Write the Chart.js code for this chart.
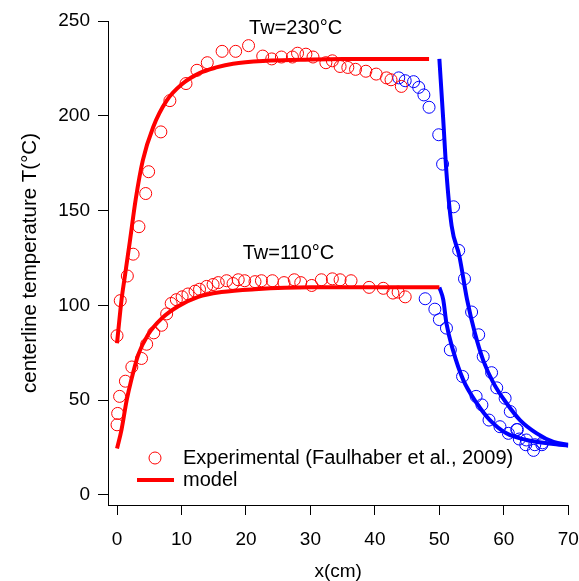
<!DOCTYPE html>
<html>
<head>
<meta charset="utf-8">
<script src="https://cdn.jsdelivr.net/npm/chart.js@4/dist/chart.umd.min.js"></script>
<style>
  html, body { margin: 0; padding: 0; background: #fff; }
  #wrap { width: 579px; height: 581px; }
</style>
</head>
<body>
<div id="wrap"><canvas id="tempChart"></canvas></div>
<script>
// experimental points, Tw = 230 C (heated part, red)
const exp230X = [0, 0.5, 1.6, 2.5, 3.4, 4.45, 4.9, 6.8, 8.2, 10.7, 12.4, 14, 16.3, 18.4, 20.4, 22.6, 24, 25.5, 27.2, 28, 29.3, 30.4, 32.4, 33.4, 34.6, 35.8, 37, 38.6, 40.2, 41.8, 42.5, 44.1];
const exp230Y = [84, 102.5, 115.5, 127, 141.5, 159, 170.5, 191.5, 208, 217, 224, 228, 234, 234, 237, 231.5, 230, 231, 231, 233, 232.5, 231, 228, 229, 226, 225.5, 224.5, 223.5, 222, 220, 219, 215.5];
// experimental points, Tw = 230 C (cooling part, blue)
const cool230X = [43.7, 44.7, 46, 46.8, 47.6, 48.4, 49.9, 50.5, 52.2, 53, 53.9, 55, 56.1, 56.8, 58.1, 58.9, 60.2, 61, 62, 63.5, 64.8, 66];
const cool230Y = [220, 218.5, 218, 215, 211, 204.5, 190, 174.5, 152, 129, 114, 96.5, 84.5, 73, 64.5, 56.5, 51, 44, 34.5, 29, 26.5, 27.5];
// experimental points, Tw = 110 C (heated part, red)
const exp110X = [0, 0.1, 0.4, 1.3, 2.3, 3.8, 4.6, 5.7, 6.9, 7.7, 8.4, 9.2, 10.1, 11, 12.1, 12.8, 13.9, 14.9, 15.7, 17, 18, 18.8, 19.8, 21.4, 22.4, 24.1, 25.9, 27.5, 28.5, 30.2, 31.7, 33.4, 34.6, 36.3, 39.1, 41.3, 42.8, 43.6, 44.7];
const exp110Y = [37, 43, 52, 60, 67.5, 72, 79.5, 85.5, 89.5, 95.5, 101, 103, 104.5, 106, 107.5, 108.5, 110, 111, 112, 113, 111.5, 113.5, 113, 112.5, 113, 113, 112, 113.5, 112, 110.5, 113.5, 114, 113.5, 113, 109.5, 109, 106.5, 107, 104.5];
// experimental points, Tw = 110 C (cooling part, blue)
const cool110X = [47.8, 49.3, 50, 51.1, 51.7, 53.6, 55.7, 56.6, 57.7, 59.4, 60.7, 62.1, 62.4, 63.4, 64.6, 65.9];
const cool110Y = [103.5, 98, 92.5, 88, 76.5, 62.5, 52, 47.5, 39.5, 36, 32.5, 34.5, 29.5, 26.5, 23.5, 26.5];

// model curves
const model230X = [0, 0.7, 1.2, 2, 2.9, 4, 5.6, 7.7, 10.2, 12.8, 15.4, 18, 23.2, 28.4, 35, 48.4];
const model230Y = [80, 103, 115, 134, 156, 176.5, 194, 208, 217, 222.5, 225.5, 227.5, 229, 229.5, 230, 230];
const modelCool230X = [50, 50.6, 51.1, 51.9, 53.1, 54.3, 55.5, 56.8, 58.4, 60.4, 62.5, 65.1, 67.7, 70];
const modelCool230Y = [230, 198, 170, 142, 126, 103, 85.5, 71, 59, 48.5, 39.5, 32.5, 28, 26.5];
const model110X = [0, 0.7, 1.5, 2.2, 3.3, 4.8, 6.9, 9.5, 12.6, 16.2, 21.4, 30, 50];
const model110Y = [24.5, 34.5, 50, 60.5, 74, 84.5, 93, 99.5, 104.5, 107, 108.5, 109.5, 109.5];
const modelCool110X = [50, 50.6, 51.1, 52.1, 53.7, 55.8, 57.8, 60.4, 63.5, 67.4, 70];
const modelCool110Y = [109.5, 103, 90.5, 76.5, 60.7, 48.4, 39.6, 32.5, 29, 27, 26];

const xTicks = [0, 10, 20, 30, 40, 50, 60, 70];
const yTicks = [0, 50, 100, 150, 200, 250];

const RED = '#ff0000';
const BLUE = '#0000ff';
const FONT = 'Liberation Sans, Arial, Helvetica, sans-serif';

function pts(xs, ys) {
  return xs.map((x, i) => ({ x: x, y: ys[i] }));
}

function circles(xs, ys, color) {
  return {
    data: pts(xs, ys),
    showLine: false,
    pointStyle: 'circle',
    pointRadius: 6,
    pointBorderWidth: 1,
    pointBorderColor: color,
    pointBackgroundColor: 'rgba(0,0,0,0)',
    order: 2
  };
}

function curve(xs, ys, color) {
  return {
    data: pts(xs, ys),
    showLine: true,
    borderColor: color,
    borderWidth: 4,
    pointRadius: 0,
    cubicInterpolationMode: 'monotone',
    fill: false,
    order: 1
  };
}

// legend and Tw labels drawn inside the plot area
const extras = {
  id: 'extras',
  afterDraw(chart) {
    const ctx = chart.ctx;
    const xs = chart.scales.x, ys = chart.scales.y;
    ctx.save();
    ctx.fillStyle = '#000';
    ctx.font = '20px ' + FONT;
    ctx.textAlign = 'center';
    ctx.textBaseline = 'middle';
    ctx.fillText('Tw=230°C', xs.getPixelForValue(27.7), ys.getPixelForValue(246.3));
    ctx.fillText('Tw=110°C', xs.getPixelForValue(26.6), ys.getPixelForValue(127.6));

    ctx.textAlign = 'left';
    ctx.beginPath();
    ctx.strokeStyle = RED;
    ctx.lineWidth = 1;
    ctx.arc(155, 458, 6, 0, Math.PI * 2);
    ctx.stroke();
    ctx.fillText('Experimental (Faulhaber et al., 2009)', 183, 458);

    ctx.beginPath();
    ctx.lineWidth = 4;
    ctx.moveTo(137, 480);
    ctx.lineTo(174, 480);
    ctx.stroke();
    ctx.fillText('model', 183, 480);
    ctx.restore();
  }
};

new Chart(document.getElementById('tempChart'), {
  type: 'scatter',
  data: {
    datasets: [
      circles(exp230X, exp230Y, RED),
      circles(cool230X, cool230Y, BLUE),
      circles(exp110X, exp110Y, RED),
      circles(cool110X, cool110Y, BLUE),
      curve(model230X, model230Y, RED),
      curve(modelCool230X, modelCool230Y, BLUE),
      curve(model110X, model110Y, RED),
      curve(modelCool110X, modelCool110Y, BLUE)
    ]
  },
  options: {
    responsive: true,
    maintainAspectRatio: false,
    animation: false,
    layout: { padding: { left: 0, top: 21, right: 10.7, bottom: 0 } },
    plugins: {
      legend: { display: false },
      tooltip: { enabled: false }
    },
    scales: {
      x: {
        type: 'linear',
        min: -1.4,
        max: 70,
        afterBuildTicks: s => { s.ticks = xTicks.map(v => ({ value: v })); },
        afterFit: s => { s.height = 76; s.paddingLeft = 0; s.paddingRight = 0; },
        grid: { drawOnChartArea: false, drawTicks: true, tickLength: 10, color: '#000', lineWidth: 1 },
        border: { color: '#000', width: 1 },
        ticks: { color: '#000', font: { family: FONT, size: 19 }, padding: 13, maxRotation: 0 },
        title: { display: true, text: 'x(cm)', color: '#000', font: { family: FONT, size: 19, lineHeight: 1 }, padding: { top: 0, bottom: 0 } }
      },
      y: {
        type: 'linear',
        min: -5.3,
        max: 250,
        afterBuildTicks: s => { s.ticks = yTicks.map(v => ({ value: v })); },
        afterFit: s => { s.width = 108; s.paddingTop = 0; s.paddingBottom = 0; },
        grid: { drawOnChartArea: false, drawTicks: true, tickLength: 10, color: '#000', lineWidth: 1 },
        border: { color: '#000', width: 1 },
        ticks: { color: '#000', font: { family: FONT, size: 19 }, padding: 8 },
        title: { display: true, text: 'centerline temperature T(°C)', color: '#000', font: { family: FONT, size: 20.5, lineHeight: 1 }, padding: { top: 20, bottom: 0 } }
      }
    }
  },
  plugins: [extras]
});
</script>
</body>
</html>
